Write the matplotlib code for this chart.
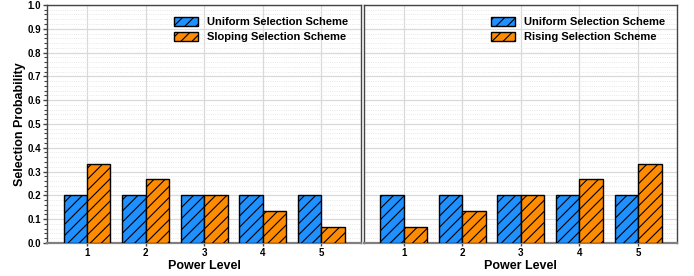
import matplotlib.pyplot as plt
import numpy as np
from matplotlib.ticker import MultipleLocator

plt.rcParams['font.family'] = ['Liberation Sans', 'DejaVu Sans']
plt.rcParams['hatch.linewidth'] = 0.8

levels = [1, 2, 3, 4, 5]
uniform = [0.2, 0.2, 0.2, 0.2, 0.2]
sloping = [1/3, 4/15, 0.2, 2/15, 1/15]
rising = [1/15, 2/15, 0.2, 4/15, 1/3]

BLUE = "#1e90ff"
ORANGE = "#ff8c00"

fig, axes = plt.subplots(1, 2, figsize=(6.94, 2.76), dpi=100, sharey=True)
fig.subplots_adjust(left=0.068, right=0.976, top=0.982, bottom=0.12, wspace=0.01)

x = np.array(levels)
width = 0.4
panels = [(sloping, "Sloping Selection Scheme"), (rising, "Rising Selection Scheme")]
for i, (ax, (other, name)) in enumerate(zip(axes, panels)):
    ax.bar(x - width / 2, uniform, width, color=BLUE, edgecolor="black", linewidth=1.0,
           hatch="///", label="Uniform Selection Scheme", zorder=3)
    ax.bar(x + width / 2, other, width, color=ORANGE, edgecolor="black", linewidth=1.0,
           hatch="///", label=name, zorder=3)
    ax.set_xlim(0.32, 5.67)
    ax.set_ylim(0, 1.0)
    ax.set_xticks(levels)
    ax.yaxis.set_major_locator(MultipleLocator(0.1))
    ax.yaxis.set_minor_locator(MultipleLocator(0.02))
    ax.grid(which="major", color="#d9d9d9", linewidth=0.9, zorder=0)
    ax.grid(which="minor", axis="y", color="#e0e0e0", linestyle=":", linewidth=0.6, zorder=0)
    ax.set_axisbelow(True)
    for s in ["top", "left", "right"]:
        ax.spines[s].set_color("#444444")
        ax.spines[s].set_linewidth(1.0)
    ax.spines["bottom"].set_color("#808080")
    ax.spines["bottom"].set_linewidth(1.6)
    ax.tick_params(axis="x", length=2, width=1, color="#444444", labelsize=7, pad=1.5)
    ax.tick_params(axis="y", which="major", length=3, width=1, color="#444444", labelsize=7, pad=1.5)
    ax.tick_params(axis="y", which="minor", length=2, width=0.8, color="#444444")
    for lab in ax.get_xticklabels() + ax.get_yticklabels():
        lab.set_fontweight("bold")
    ax.set_xlabel("Power Level", fontsize=9, fontweight="bold", labelpad=1.5)
    ax.legend(loc="upper right", frameon=False, prop={"weight": "bold", "size": 8},
              handlelength=2.2, handleheight=0.8, borderaxespad=0.7, labelspacing=0.45)
    if i == 1:
        ax.tick_params(axis="y", which="both", length=0, left=False)

axes[0].set_ylabel("Selection Probability", fontsize=9, fontweight="bold", labelpad=1)

fig.savefig("out.png", dpi=100)
